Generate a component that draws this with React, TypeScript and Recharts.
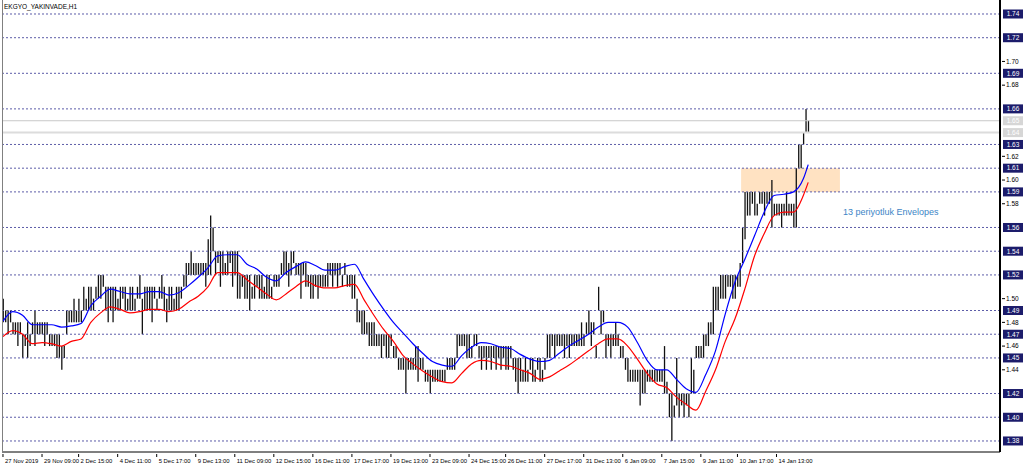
import { ComposedChart, Bar, Line, XAxis, YAxis, ReferenceLine, ReferenceArea } from "recharts";

// H1 bars, prices in kuruş (1.49 -> 149)
const barHigh = [
  150, 149, 149, 149, 148, 148, 148, 148, 147, 147, 148, 147, 148, 149, 148, 148,
  148, 148, 148, 147, 147, 147, 147, 147, 146, 146, 149, 149, 149, 150, 149, 150,
  149, 151, 150, 151, 151, 150, 151, 152, 152, 152, 151, 151, 151, 151, 151, 150,
  151, 151, 151, 150, 151, 151, 150, 151, 152, 150, 151, 151, 151, 151, 151, 150,
  151, 152, 151, 150, 151, 151, 150, 151, 151, 151, 152, 153, 153, 154, 153, 153,
  153, 153, 153, 153, 155, 157, 156, 154, 154, 154, 154, 153, 154, 154, 154, 154,
  154, 152, 152, 152, 152, 152, 151, 152, 152, 152, 152, 151, 152, 152, 151, 152,
  152, 152, 153, 154, 154, 153, 154, 154, 153, 153, 153, 153, 153, 152, 152, 152,
  152, 152, 152, 152, 152, 153, 153, 153, 153, 153, 153, 152, 153, 152, 152, 152,
  152, 150, 149, 149, 149, 148, 148, 148, 148, 147, 147, 147, 147, 147, 147, 147,
  146, 146, 145, 145, 145, 145, 145, 145, 145, 146, 146, 145, 145, 144, 144, 144,
  144, 144, 144, 144, 144, 144, 145, 145, 145, 145, 147, 147, 147, 147, 147, 147,
  146, 147, 147, 146, 146, 146, 146, 146, 146, 146, 146, 146, 146, 146, 146, 146,
  146, 145, 145, 145, 145, 144, 145, 144, 145, 145, 144, 145, 145, 144, 145, 147,
  147, 147, 147, 147, 147, 147, 147, 147, 147, 147, 147, 147, 147, 148, 147, 148,
  149, 148, 148, 146, 151, 149, 149, 147, 147, 147, 147, 148, 147, 146, 146, 145,
  145, 144, 144, 144, 144, 144, 144, 144, 144, 144, 144, 144, 144, 144, 144, 146,
  143, 142, 142, 141, 145, 142, 142, 142, 142, 142, 145, 144, 146, 146, 146, 147,
  147, 148, 148, 151, 151, 151, 152, 152, 152, 152, 152, 152, 152, 152, 153, 156,
  159, 159, 159, 159, 159, 158, 159, 159, 159, 159, 159, 160, 158, 158, 158, 158,
  158, 159, 158, 158, 158, 161, 163, 163, 164, 166, 165,
];

const barLow = [
  148, 148, 147, 148, 147, 147, 146, 147, 145, 146, 145, 146, 147, 146, 147, 147,
  147, 146, 147, 146, 146, 146, 145, 145, 144, 145, 147, 148, 148, 148, 148, 148,
  148, 149, 149, 149, 149, 149, 150, 150, 150, 151, 149, 148, 149, 148, 149, 149,
  149, 150, 149, 149, 149, 149, 149, 150, 150, 147, 149, 149, 149, 148, 150, 149,
  150, 150, 149, 148, 149, 149, 149, 149, 149, 150, 151, 151, 152, 152, 152, 152,
  152, 152, 152, 151, 152, 152, 154, 152, 153, 151, 152, 152, 152, 153, 151, 152,
  150, 150, 151, 150, 150, 149, 150, 150, 151, 150, 150, 150, 150, 150, 150, 151,
  151, 151, 152, 152, 152, 151, 152, 153, 152, 152, 150, 152, 151, 151, 150, 150,
  151, 150, 151, 151, 151, 151, 152, 151, 152, 151, 152, 151, 152, 151, 151, 150,
  150, 148, 148, 147, 147, 147, 146, 146, 146, 146, 146, 145, 146, 145, 145, 146,
  145, 145, 144, 144, 144, 142, 144, 144, 144, 144, 143, 144, 144, 143, 143, 142,
  143, 143, 143, 143, 143, 143, 144, 144, 144, 144, 145, 146, 146, 146, 145, 145,
  145, 146, 146, 145, 144, 145, 144, 145, 144, 145, 144, 145, 144, 145, 144, 144,
  145, 144, 143, 142, 143, 143, 143, 143, 144, 143, 143, 144, 143, 143, 144, 145,
  145, 146, 145, 146, 146, 146, 145, 146, 145, 146, 146, 146, 146, 146, 146, 147,
  147, 146, 147, 145, 149, 147, 148, 145, 146, 145, 146, 146, 146, 145, 145, 144,
  143, 143, 143, 143, 143, 141, 142, 142, 143, 143, 143, 143, 143, 143, 143, 142,
  142, 140, 138, 140, 141, 140, 141, 140, 141, 140, 142, 142, 145, 145, 145, 145,
  146, 146, 147, 147, 149, 149, 150, 150, 150, 151, 151, 150, 150, 151, 151, 153,
  155, 157, 157, 158, 157, 157, 158, 158, 157, 158, 158, 156, 157, 157, 157, 156,
  157, 157, 157, 157, 156, 156, 161, 161, 163, 164, 164,
];

// 13 periyotluk Envelopes, read every 4th bar
const envIdx = [
  0, 4, 8, 12, 16, 20, 24, 28, 32, 36, 40, 44, 48, 52, 56, 60, 64, 68, 72, 76, 80,
  84, 88, 92, 96, 100, 104, 108, 112, 116, 120, 124, 128, 132, 136, 140, 144, 148,
  152, 156, 160, 164, 168, 172, 176, 180, 184, 188, 192, 196, 200, 204, 208, 212,
  216, 220, 224, 228, 232, 236, 240, 244, 248, 252, 256, 260, 264, 268, 272, 276,
  280, 284, 288, 292, 296, 300, 304, 308, 312, 316, 320, 324, 328, 330,
];
const envUpper = [
  1.481, 1.489, 1.486, 1.478, 1.478, 1.478, 1.476, 1.477, 1.479, 1.494, 1.502,
  1.508, 1.506, 1.504, 1.504, 1.506, 1.506, 1.503, 1.505, 1.511, 1.518, 1.526,
  1.536, 1.537, 1.537, 1.529, 1.525, 1.518, 1.515, 1.522, 1.527, 1.531, 1.528,
  1.524, 1.524, 1.527, 1.529, 1.516, 1.503, 1.491, 1.48, 1.471, 1.462, 1.454,
  1.447, 1.444, 1.443, 1.452, 1.459, 1.463, 1.462, 1.459, 1.458, 1.453, 1.449,
  1.447, 1.448, 1.454, 1.46, 1.465, 1.47, 1.476, 1.48, 1.48, 1.476, 1.463, 1.448,
  1.44, 1.44, 1.432, 1.424, 1.421, 1.436, 1.456, 1.487, 1.514, 1.533, 1.553,
  1.573, 1.587, 1.588, 1.59, 1.601, 1.613,
];
const envLower = [
  1.468, 1.473, 1.47, 1.462, 1.463, 1.462, 1.46, 1.464, 1.466, 1.48, 1.488, 1.493,
  1.491, 1.488, 1.489, 1.491, 1.491, 1.489, 1.491, 1.497, 1.502, 1.51, 1.522,
  1.522, 1.522, 1.516, 1.51, 1.504, 1.499, 1.504, 1.51, 1.515, 1.511, 1.509,
  1.509, 1.511, 1.512, 1.499, 1.486, 1.474, 1.464, 1.452, 1.445, 1.439, 1.434,
  1.43, 1.429, 1.437, 1.445, 1.448, 1.447, 1.444, 1.443, 1.44, 1.437, 1.432,
  1.434, 1.439, 1.444, 1.45, 1.456, 1.462, 1.466, 1.466, 1.46, 1.449, 1.437,
  1.428, 1.425, 1.417, 1.411, 1.406, 1.422, 1.44, 1.464, 1.483, 1.508, 1.536,
  1.555, 1.57, 1.573, 1.573, 1.587, 1.598,
];

const tickIdx = [0, 16, 31, 47, 63, 79, 95, 111, 127, 143, 159, 175, 191, 206, 222, 238, 254, 270, 286, 301, 317];
const tickLabel = [
  "27 Nov 2019", "29 Nov 09:00", "2 Dec 15:00", "4 Dec 11:00", "5 Dec 17:00",
  "9 Dec 13:00", "11 Dec 09:00", "12 Dec 15:00", "16 Dec 11:00", "17 Dec 17:00",
  "19 Dec 13:00", "23 Dec 09:00", "24 Dec 15:00", "26 Dec 11:00", "27 Dec 17:00",
  "31 Dec 13:00", "6 Jan 09:00", "7 Jan 15:00", "9 Jan 11:00", "10 Jan 17:00",
  "14 Jan 13:00",
];

// horizontal levels drawn on the chart
const levelLines = [1.74, 1.72, 1.69, 1.66, 1.63, 1.61, 1.59, 1.56, 1.54, 1.52, 1.49, 1.47, 1.45, 1.42, 1.4, 1.38];
const greyLines = [1.65, 1.64];
const plainTicks = [1.7, 1.68, 1.62, 1.6, 1.58, 1.5, 1.48, 1.46, 1.44];

const FONT = "'Liberation Sans', Arial, sans-serif";

const OhlcBar = (props: any) => {
  const { x, y, width, height } = props;
  if (x == null || y == null) return null;
  const cx = x + width / 2;
  return <line x1={cx} x2={cx} y1={y} y2={y + Math.max(height, 1)} stroke="#111" strokeWidth={1.3} />;
};

const YTick = (props: any) => {
  const { x, y, payload } = props;
  const v = payload.value;
  const txt = v.toFixed(2);
  if (levelLines.some((l) => Math.abs(l - v) < 1e-6)) {
    return (
      <g>
        <rect x={x + 1} y={y - 4.5} width={20} height={9} fill="#1c1c6b" />
        <text x={x + 11} y={y + 2.3} textAnchor="middle" fontSize={6.5} fill="#fff" fontFamily={FONT}>{txt}</text>
      </g>
    );
  }
  if (greyLines.some((l) => Math.abs(l - v) < 1e-6)) {
    return (
      <g>
        <rect x={x + 1} y={y - 4.5} width={20} height={9} fill="#d6d6d6" />
        <text x={x + 11} y={y + 2.3} textAnchor="middle" fontSize={6.5} fill="#fff" fontFamily={FONT}>{txt}</text>
      </g>
    );
  }
  return (
    <g>
      <line x1={x} x2={x + 3} y1={y} y2={y} stroke="#000" />
      <text x={x + 4} y={y + 2.3} fontSize={6.5} fill="#000" fontFamily={FONT}>{txt}</text>
    </g>
  );
};

const XTick = (props: any) => {
  const { x, y, payload } = props;
  const k = tickIdx.indexOf(payload.value);
  return (
    <g>
      <line x1={x} x2={x} y1={y} y2={y + 3} stroke="#000" />
      <text x={x + 2} y={y + 9} fontSize={5.9} fill="#000" fontFamily={FONT}>{tickLabel[k]}</text>
    </g>
  );
};

export default function App() {
  const data = barHigh.map((h, i) => ({
    i,
    range: [barLow[i] / 100, h / 100],
    upper: null as number | null,
    lower: null as number | null,
  }));
  envIdx.forEach((idx, k) => {
    data[idx].upper = envUpper[k];
    data[idx].lower = envLower[k];
  });

  return (
    <div style={{ position: "absolute", left: 0, top: 0, width: 1024, height: 465, background: "#fff", fontFamily: FONT }}>
      <ComposedChart width={1024} height={465} data={data} margin={{ top: 0, right: 0, bottom: 0, left: 2 }}>
        <XAxis
          dataKey="i"
          type="number"
          domain={[-0.4, 408.6]}
          ticks={tickIdx}
          interval={0}
          height={13}
          tickLine={false}
          tickSize={0}
          tick={<XTick />}
          axisLine={{ stroke: "#000" }}
          allowDataOverflow
        />
        <YAxis
          orientation="right"
          domain={[1.3707, 1.7518]}
          ticks={[...levelLines, ...greyLines, ...plainTicks]}
          interval={0}
          width={24}
          tickLine={false}
          tickSize={0}
          tick={<YTick />}
          axisLine={{ stroke: "#000", strokeWidth: 2 }}
          allowDataOverflow
        />
        <ReferenceArea x1={302.5} x2={343} y1={1.59} y2={1.61} fill="#ffe2c2" fillOpacity={1} stroke="none" />
        {levelLines.map((l) => (
          <ReferenceLine key={l} y={l} stroke="#5c5ca8" strokeDasharray="2 2" />
        ))}
        <ReferenceLine y={1.65} stroke="#c8c8c8" />
        <ReferenceLine y={1.64} stroke="#dcdcdc" strokeWidth={2} />
        <Bar dataKey="range" barSize={1} shape={<OhlcBar />} isAnimationActive={false} />
        <Line type="monotone" dataKey="upper" stroke="#0000ff" strokeWidth={1.2} dot={false} connectNulls isAnimationActive={false} />
        <Line type="monotone" dataKey="lower" stroke="#ff0000" strokeWidth={1.2} dot={false} connectNulls isAnimationActive={false} />
      </ComposedChart>
      <div style={{ position: "absolute", left: 2, top: 0, width: 1, height: 452, background: "#808080" }} />
      <div style={{ position: "absolute", left: 4, top: 3, fontSize: 6.5, color: "#000", whiteSpace: "nowrap" }}>EKGYO_YAKINVADE,H1</div>
      <div style={{ position: "absolute", left: 843, top: 207, fontSize: 9, color: "#3d85c6", whiteSpace: "nowrap" }}>13 periyotluk Envelopes</div>
    </div>
  );
}
